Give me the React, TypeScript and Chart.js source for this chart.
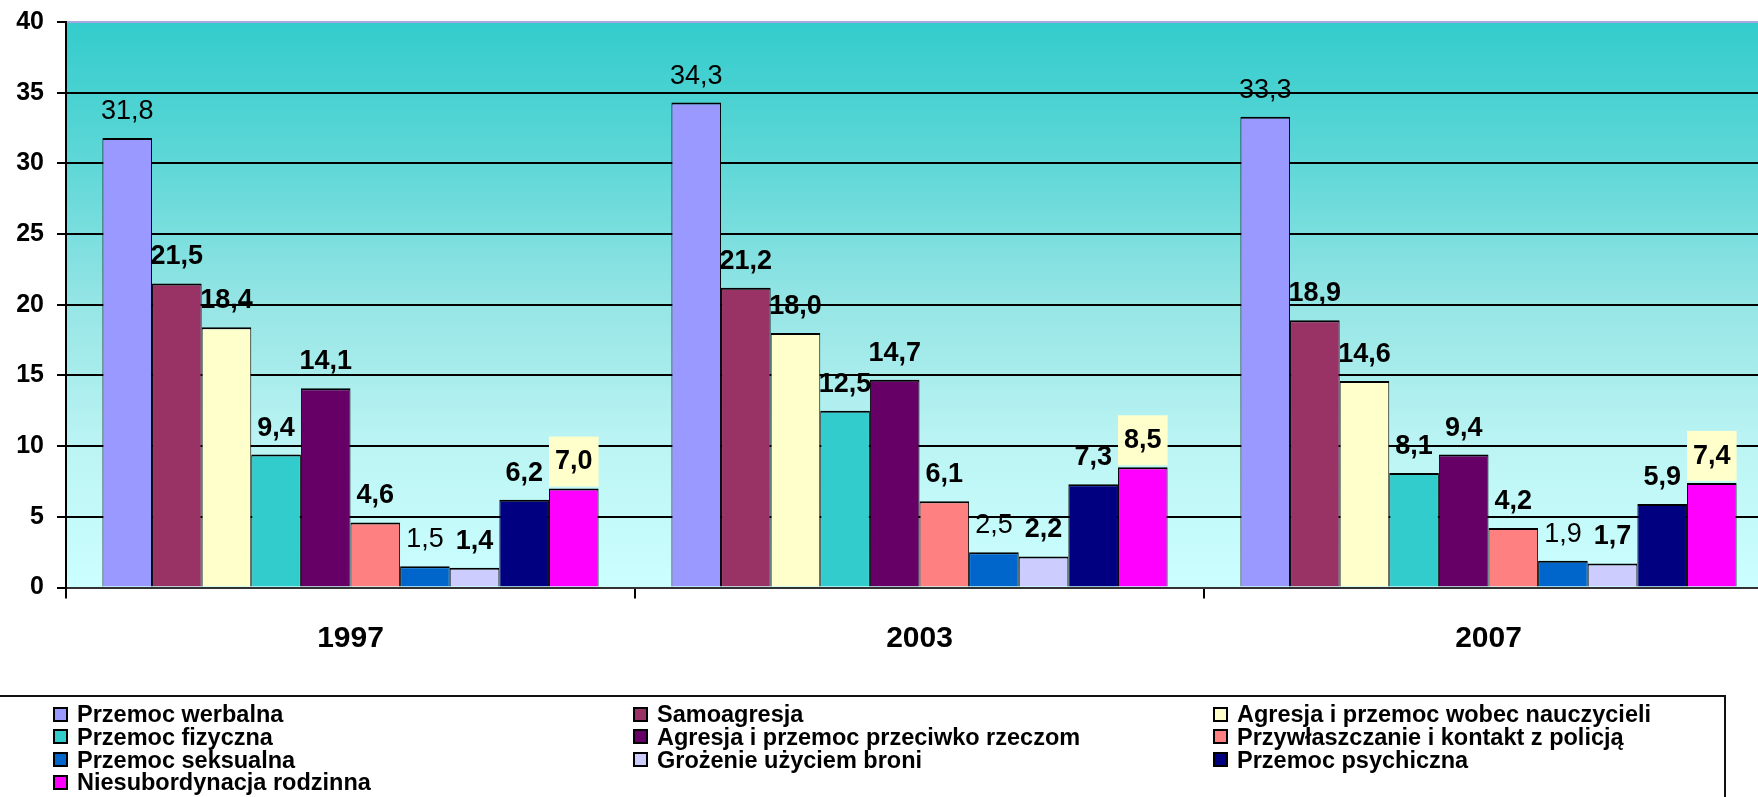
import React, { useEffect, useRef } from 'react';
import { Chart, registerables } from 'chart.js';
Chart.register(...registerables);

const years = ['1997', '2003', '2007'];
const seriesNames = [
  'Przemoc werbalna',
  'Samoagresja',
  'Agresja i przemoc wobec nauczycieli',
  'Przemoc fizyczna',
  'Agresja i przemoc przeciwko rzeczom',
  'Przywłaszczanie i kontakt z policją',
  'Przemoc seksualna',
  'Grożenie użyciem broni',
  'Przemoc psychiczna',
  'Niesubordynacja rodzinna',
];
const werbalna = [31.8, 34.3, 33.3];
const samoagresja = [21.5, 21.2, 18.9];
const nauczyciele = [18.4, 18.0, 14.6];
const fizyczna = [9.4, 12.5, 8.1];
const rzeczy = [14.1, 14.7, 9.4];
const policja = [4.6, 6.1, 4.2];
const seksualna = [1.5, 2.5, 1.9];
const bron = [1.4, 2.2, 1.7];
const psychiczna = [6.2, 7.3, 5.9];
const rodzinna = [7.0, 8.5, 7.4];
const seriesValues = [werbalna, samoagresja, nauczyciele, fizyczna, rzeczy, policja, seksualna, bron, psychiczna, rodzinna];
const seriesColors = ['#9999FF', '#993366', '#FFFFCC', '#33CCCC', '#660066', '#FF8080', '#0066CC', '#CCCCFF', '#000080', '#FF00FF'];
const normalWeightSeries = [0, 6];
const highlightedSeries = 9;

const FONT = '"Liberation Sans", Arial, Helvetica, sans-serif';

export default function App() {
  const ref = useRef<HTMLCanvasElement>(null);

  useEffect(() => {
    if (!ref.current) return;
    const bgPlugin = {
      id: 'bgGradient',
      beforeDraw(chart: any) {
        const { ctx, chartArea: a } = chart;
        const g = ctx.createLinearGradient(0, a.top, 0, a.bottom);
        g.addColorStop(0, '#33CCCC');
        g.addColorStop(0.25, '#5FD7D7');
        g.addColorStop(0.5, '#96E5E5');
        g.addColorStop(0.75, '#BCF4F4');
        g.addColorStop(1, '#CCFFFF');
        ctx.save();
        ctx.fillStyle = g;
        ctx.fillRect(a.left, a.top, a.right - a.left, a.bottom - a.top);
        ctx.restore();
      },
    };
    const labelPlugin = {
      id: 'valueLabels',
      afterDatasetsDraw(chart: any) {
        const ctx = chart.ctx;
        ctx.save();
        const meta9 = chart.getDatasetMeta(highlightedSeries);
        meta9.data.forEach((bar: any) => {
          const { x, y, width } = bar.getProps(['x', 'y', 'width'], true);
          ctx.fillStyle = '#FFFFCC';
          ctx.fillRect(x - width / 2, y - 52, width, 50);
        });
        chart.data.datasets.forEach((ds: any, i: number) => {
          const meta = chart.getDatasetMeta(i);
          meta.data.forEach((bar: any, j: number) => {
            const v = ds.data[j];
            const { x, y } = bar.getProps(['x', 'y'], true);
            ctx.font = `${normalWeightSeries.includes(i) ? 'normal' : 'bold'} 27px ${FONT}`;
            ctx.fillStyle = '#000';
            ctx.textAlign = 'center';
            ctx.textBaseline = 'middle';
            ctx.fillText(v.toFixed(1).replace('.', ','), x, y - 26.5);
          });
        });
        ctx.restore();
      },
    };

    const chart = new Chart(ref.current, {
      type: 'bar',
      data: {
        labels: years,
        datasets: seriesNames.map((name, i) => ({
          label: name,
          data: seriesValues[i],
          backgroundColor: seriesColors[i],
          borderColor: '#000',
          borderWidth: { top: 2, left: 1, right: 1, bottom: 0 },
          borderSkipped: false,
          categoryPercentage: 0.872,
          barPercentage: 1,
        })),
      },
      options: {
        animation: false,
        responsive: false,
        devicePixelRatio: 1,
        layout: { padding: { left: 0, top: 22, right: 17, bottom: 149.5 } },
        plugins: { legend: { display: false }, tooltip: { enabled: false } },
        scales: {
          x: {
            grid: { drawOnChartArea: false, drawTicks: true, tickLength: 11, color: '#000', lineWidth: 2, offset: true },
            border: { display: true, color: '#333', width: 2 },
            ticks: { font: { family: FONT, size: 30, weight: 'bold' }, color: '#000', padding: 22 },
            afterFit: (s: any) => { s.height = 60; s.paddingLeft = 0; s.paddingRight = 0; },
          },
          y: {
            min: 0,
            max: 40,
            ticks: { stepSize: 5, font: { family: FONT, size: 25, weight: 'bold' }, color: '#000', padding: 13 },
            grid: {
              color: (c: any) => (c.tick && c.tick.value === 40 ? '#A8A8E0' : '#000'),
              tickColor: '#000',
              lineWidth: 2,
              tickLength: 9,
            },
            border: { display: true, color: '#000', width: 2 },
            afterFit: (s: any) => { s.width = 66; s.paddingTop = 0; s.paddingBottom = 0; },
          },
        },
      },
      plugins: [bgPlugin, labelPlugin],
    });
    return () => chart.destroy();
  }, []);

  const cols = [53, 633, 1213];
  const rowCenters = [714, 736.5, 759.5, 782];

  return (
    <div style={{ position: 'fixed', left: 0, top: 0, width: 1758, height: 797, overflow: 'hidden', background: '#fff' }}>
      <canvas ref={ref} width={1790} height={797} style={{ position: 'absolute', left: 0, top: 0, width: 1790, height: 797 }} />
      <div
        style={{
          position: 'absolute',
          left: -10,
          top: 695,
          width: 1736,
          height: 140,
          border: '2px solid #111',
          boxSizing: 'border-box',
        }}
      />
      {seriesNames.map((name, i) => {
        const col = i % 3;
        const row = Math.floor(i / 3);
        return (
          <div
            key={name}
            style={{
              position: 'absolute',
              left: cols[col],
              top: rowCenters[row] - 12,
              height: 24,
              display: 'flex',
              alignItems: 'center',
              whiteSpace: 'nowrap',
            }}
          >
            <span
              style={{
                display: 'inline-block',
                width: 15,
                height: 15,
                boxSizing: 'border-box',
                border: '2px solid #000',
                background: seriesColors[i],
                marginRight: 9,
              }}
            />
            <span style={{ font: `bold 23.5px ${FONT}`, lineHeight: '24px', color: '#000' }}>{name}</span>
          </div>
        );
      })}
    </div>
  );
}
